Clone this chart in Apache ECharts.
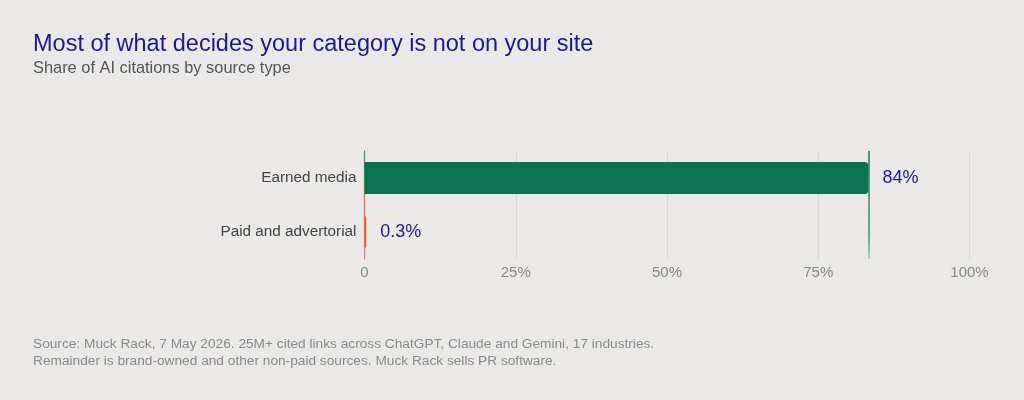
<!DOCTYPE html>
<html>
<head>
<meta charset="utf-8">
<script src="https://cdn.jsdelivr.net/npm/echarts@6/dist/echarts.min.js"></script>
<style>
html,body{margin:0;padding:0;background:#ebe9e7;}
#c{width:1024px;height:400px;}
</style>
</head>
<body>
<div id="c"></div>
<script>
const categories = ['Earned media', 'Paid and advertorial'];
const values = [83.3, 0.3];
const valueLabels = ['84%', '0.3%'];
const barColors = ['#0b7352', '#e4612a'];
const tickLabels = {0: '0', 25: '25%', 50: '50%', 75: '75%', 100: '100%'};
const titleText = 'Most of what decides your category is not on your site';
const subtitleText = 'Share of AI citations by source type';
const footerLines = [
  'Source: Muck Rack, 7 May 2026. 25M+ cited links across ChatGPT, Claude and Gemini, 17 industries.',
  'Remainder is brand-owned and other non-paid sources. Muck Rack sells PR software.'
];

const font = '"Liberation Sans", Arial, Helvetica, sans-serif';
const chart = echarts.init(document.getElementById('c'));
chart.setOption({
  backgroundColor: '#ebe9e7',
  animation: false,
  title: {
    text: titleText,
    subtext: subtitleText,
    left: 28, top: 28,
    itemGap: 3,
    textStyle: {fontFamily: font, fontSize: 23.5, fontWeight: 'normal', color: '#1d1990'},
    subtextStyle: {fontFamily: font, fontSize: 16.4, color: '#555555'}
  },
  graphic: [{
    type: 'text', left: 33, top: 336,
    style: {text: footerLines.join('\n'), fontFamily: font, fontSize: 13.7, lineHeight: 17, fill: '#8a8a8a'}
  }],
  grid: {left: 364.5, right: 54.5, top: 151, bottom: 141, containLabel: false},
  xAxis: {
    type: 'value', min: 0, max: 100, interval: 25,
    axisLine: {show: false},
    axisTick: {show: false},
    splitLine: {lineStyle: {color: '#d9d8d6', width: 1}},
    axisLabel: {
      formatter: v => tickLabels[v] !== undefined ? tickLabels[v] : v + '%',
      fontFamily: font, fontSize: 15, color: '#888888', margin: 6
    }
  },
  yAxis: {
    type: 'category', data: categories, inverse: true,
    axisLine: {show: true, lineStyle: {width: 1.2, color: new echarts.graphic.LinearGradient(0, 0, 0, 1, [
      {offset: 0, color: '#3b8d6a'}, {offset: 0.25, color: '#5a9a70'},
      {offset: 0.32, color: '#e4612a'}, {offset: 1, color: '#e88a5c'}
    ])}},
    axisTick: {show: false},
    axisLabel: {fontFamily: font, fontSize: 15.3, color: '#444444', margin: 8}
  },
  series: [{
    type: 'bar',
    data: values.map((v, i) => ({
      value: v,
      itemStyle: {color: barColors[i], borderRadius: [0, 4, 4, 0]},
      label: {formatter: valueLabels[i]}
    })),
    barWidth: 32,
    label: {
      show: true, position: 'right', distance: 14,
      fontFamily: font, fontSize: 18, color: '#1d1990'
    },
    markLine: {
      silent: true, symbol: 'none',
      label: {show: false},
      lineStyle: {type: 'solid', width: 1.5, color: new echarts.graphic.LinearGradient(0, 0, 0, 1, [
        {offset: 0, color: '#137a55'}, {offset: 0.75, color: '#3a9470'}, {offset: 1, color: 'rgba(11,115,82,0.25)'}
      ])},
      data: [{xAxis: values[0]}]
    }
  }]
});
</script>
</body>
</html>
